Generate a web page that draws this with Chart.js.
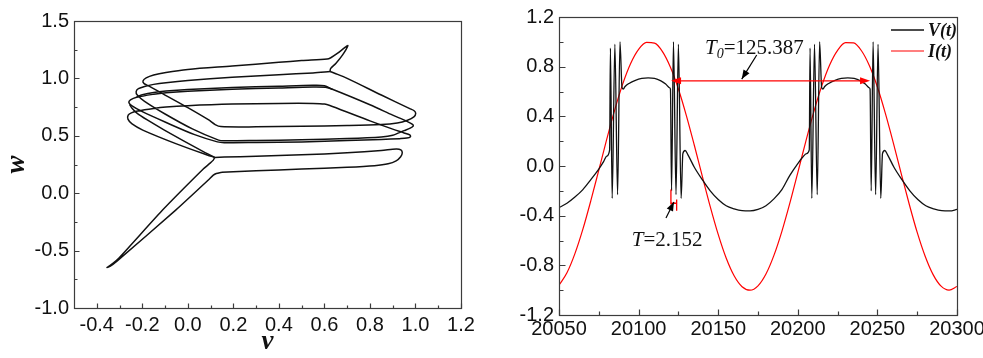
<!DOCTYPE html>
<html><head><meta charset="utf-8">
<script src="https://cdn.jsdelivr.net/npm/chart.js@4.4.1/dist/chart.umd.min.js"></script>
<style>
html,body{margin:0;padding:0;background:#fff;}
#wrap{position:relative;width:983px;height:358px;overflow:hidden;background:#fff;}
#c1{position:absolute;left:0;top:0;}
#c2{position:absolute;left:490px;top:0;}
</style></head><body>
<div id="wrap"><canvas id="c1" width="490" height="358"></canvas><canvas id="c2" width="493" height="358"></canvas></div>
<script>
// ---------- Left panel: phase portrait (v, w), strands ----------
const vTicks = [-0.4,-0.2,0.0,0.2,0.4,0.6,0.8,1.0,1.2];
const vMinor = [-0.3,-0.1,0.1,0.3,0.5,0.7,0.9,1.1];
const wTicks = [-1.0,-0.5,0.0,0.5,1.0,1.5];
const wMinor = [-0.75,-0.25,0.25,0.75,1.25];

const tailPts = [[0.118,0.312],[0.112,0.288],[0.098,0.262],[0.07,0.215],[-0.11,-0.145],[-0.30,-0.56],[-0.338,-0.625],[-0.355,-0.647],[-0.342,-0.638],[-0.31,-0.59],[-0.052,-0.145],[0.09,0.115],[0.112,0.158],[0.125,0.172],[0.15,0.183]];
const bottomLoopPts = [[0.15,0.183],[0.3,0.196],[0.5,0.21],[0.7,0.226],[0.82,0.24],[0.88,0.256],[0.915,0.282],[0.935,0.318],[0.942,0.352],[0.936,0.378],[0.915,0.386],[0.85,0.372],[0.7,0.352],[0.5,0.334],[0.3,0.322],[0.16,0.315],[0.118,0.312]];
const burstAPts = [[0.118,0.312],[0.085,0.333],[-0.05,0.43],[-0.198,0.55],[-0.245,0.603],[-0.263,0.645],[-0.262,0.68],[-0.248,0.7],[-0.22,0.716],[-0.15,0.738],[-0.096,0.75],[0.0,0.762],[0.195,0.776],[0.4,0.782],[0.55,0.782],[0.6,0.776],[0.635,0.755],[0.8,0.63],[0.9,0.558],[0.95,0.525],[0.975,0.508],[0.978,0.492],[0.962,0.48],[0.93,0.475],[0.85,0.468],[0.7,0.458],[0.5,0.447],[0.3,0.442],[0.16,0.44],[0.13,0.447],[0.03,0.51],[-0.1,0.62],[-0.2,0.71],[-0.245,0.76],[-0.259,0.79],[-0.252,0.812],[-0.225,0.835],[-0.15,0.862],[-0.096,0.875],[0.0,0.888],[0.195,0.905],[0.4,0.917],[0.55,0.925],[0.605,0.922],[0.635,0.905],[0.8,0.77],[0.9,0.68],[0.96,0.628],[0.987,0.6],[0.99,0.585],[0.977,0.567],[0.95,0.545],[0.9,0.505],[0.85,0.49],[0.7,0.476],[0.5,0.466],[0.3,0.459],[0.16,0.456],[0.135,0.462],[0.02,0.56],[-0.1,0.69],[-0.19,0.8],[-0.222,0.855],[-0.227,0.885],[-0.217,0.91],[-0.19,0.93],[-0.15,0.948],[-0.096,0.963],[0.0,0.982],[0.195,1.01],[0.4,1.032],[0.55,1.048],[0.625,1.06]];
const burstBPts = [[0.625,1.06],[0.627,1.085],[0.65,1.13],[0.68,1.205],[0.703,1.285],[0.692,1.272],[0.655,1.215],[0.628,1.18],[0.612,1.168],[0.5,1.155],[0.4,1.14],[0.195,1.108],[0.0,1.078],[-0.096,1.052],[-0.15,1.03],[-0.183,1.005],[-0.197,0.978],[-0.192,0.955],[-0.172,0.935],[-0.1,0.855],[0.0,0.745],[0.09,0.64],[0.12,0.598],[0.145,0.58],[0.3,0.578],[0.5,0.583],[0.7,0.589],[0.85,0.598],[0.92,0.612],[0.965,0.636],[0.993,0.665],[1.001,0.695],[0.994,0.718],[0.975,0.737],[0.85,0.855],[0.7,1.0],[0.645,1.045],[0.625,1.06]];
const junctionDiagPts = [[0.118,0.312],[0.07,0.36],[-0.103,0.55],[-0.18,0.64],[-0.225,0.7],[-0.245,0.74],[-0.255,0.77]];
const doubleTopPts = [[0.635,0.905],[0.6,0.936],[0.55,0.94],[0.4,0.932],[0.195,0.92],[0.0,0.903],[-0.096,0.89],[-0.15,0.878],[-0.2,0.858],[-0.225,0.84]];

// ---------- Right panel: time series ----------
const tTicks = [20050,20100,20150,20200,20250,20300];
const tMinor = [20075,20125,20175,20225,20275];
const yTicks = [-1.2,-0.8,-0.4,0.0,0.4,0.8,1.2];
const yMinor = [-1.0,-0.6,-0.2,0.2,0.6,1.0];

const vTime = [20050,20055,20060,20065,20070,20075,20078,20080,20081.8,20082.3,20083.4,20085.1,20086.8,20088.3,20089.6,20090.4,20091.5,20094,20098,20102,20106,20110,20114,20117,20119.5,20120.0,20120.7,20121.9,20123.5,20125.0,20126.7,20127.8,20129.2,20131,20135,20140,20145,20150,20155,20160,20165,20170,20175,20180,20185,20190,20195,20200,20203,20205.5,20207.2,20207.7,20208.8,20210.5,20212.2,20213.7,20215.0,20215.8,20216.9,20219.4,20223.4,20227.4,20231.4,20235.4,20239.4,20242.4,20244.9,20245.4,20246.1,20247.3,20248.9,20250.4,20252.1,20253.2,20254.6,20256.4,20260.4,20265.4,20270.4,20275.4,20280.4,20285.4,20290.4,20295.4,20300];
const vValue = [-0.335,-0.30,-0.25,-0.19,-0.11,-0.025,0.035,0.08,0.13,0.95,-0.26,0.98,-0.23,1.0,0.63,0.62,0.64,0.665,0.69,0.705,0.71,0.705,0.685,0.66,0.63,0.62,-0.20,1.0,-0.23,0.98,-0.26,0.10,0.125,0.09,-0.01,-0.11,-0.20,-0.27,-0.32,-0.345,-0.36,-0.362,-0.35,-0.32,-0.265,-0.19,-0.075,0.02,0.07,0.10,0.13,0.95,-0.26,0.98,-0.23,1.0,0.63,0.62,0.64,0.665,0.69,0.705,0.71,0.705,0.685,0.66,0.63,0.62,-0.20,1.0,-0.23,0.98,-0.26,0.10,0.125,0.09,-0.01,-0.11,-0.20,-0.27,-0.32,-0.345,-0.36,-0.362,-0.35];

const iTime = [20050,20055,20060,20065,20070,20075,20080,20085,20090,20095,20100,20105,20110,20115,20120,20125,20130,20135,20140,20145,20150,20155,20160,20165,20170,20175,20180,20185,20190,20195,20200,20205,20210,20215,20220,20225,20230,20235,20240,20245,20250,20255,20260,20265,20270,20275,20280,20285,20290,20295,20300];
const iValue = [-0.960,-0.860,-0.706,-0.509,-0.279,-0.033,0.216,0.452,0.659,0.825,0.939,0.995,0.989,0.921,0.795,0.620,0.406,0.167,-0.082,-0.327,-0.551,-0.741,-0.884,-0.972,-1.000,-0.965,-0.870,-0.720,-0.526,-0.299,-0.053,0.197,0.434,0.644,0.814,0.932,0.993,0.991,0.928,0.807,0.636,0.424,0.187,-0.063,-0.308,-0.535,-0.727,-0.875,-0.968,-1.000,-0.970];

// annotation anchors (data units)
const periodArrow = {t1:20120.4, t2:20245.4, y:0.686, label:'125.387'};
const periodPointer = {t1:20174.2, y1:0.894, t2:20164.8, y2:0.70, textT:20141.7, textY:0.906};
const spikeMark = {tA:20120.3, tB:20123.9, yA1:-0.19, yA2:-0.31, yB1:-0.27, yB2:-0.36, yH:-0.30};
const spikePointer = {t1:20117.2, y1:-0.418, t2:20122.2, y2:-0.29, textT:20095.7, textY:-0.648, label:'2.152'};

const SANS = "'Liberation Sans', Arial, Helvetica, sans-serif";
const SERIF = "'Liberation Serif', 'Times New Roman', Times, serif";

const frameTicks = {
  id: 'frameTicks',
  afterDraw(chart, args, o) {
    const {ctx, chartArea: a} = chart;
    const xs = chart.scales.x, ys = chart.scales.y;
    ctx.save();
    ctx.strokeStyle = o.color; ctx.lineWidth = 1.2;
    const L = Math.round(a.left)+0.5, R = Math.round(a.right)+0.5, T = Math.round(a.top)+0.5, B = Math.round(a.bottom)+0.5;
    ctx.strokeRect(L, T, R-L, B-T);
    ctx.beginPath();
    const tx = (arr, len) => arr.forEach(v => { const p = Math.round(xs.getPixelForValue(v))+0.5; ctx.moveTo(p,B); ctx.lineTo(p,B-len); });
    const ty = (arr, len) => arr.forEach(v => { const p = Math.round(ys.getPixelForValue(v))+0.5; ctx.moveTo(L,p); ctx.lineTo(L+len,p); });
    tx(o.xMajor, o.major); tx(o.xMinor, o.minor); ty(o.yMajor, o.major); ty(o.yMinor, o.minor);
    ctx.stroke();
    ctx.restore();
  }
};

function arrowHead(ctx, x1, y1, x2, y2, len, half) {
  const ang = Math.atan2(y2-y1, x2-x1), c = Math.cos(ang), s = Math.sin(ang);
  ctx.beginPath();
  ctx.moveTo(x2, y2);
  ctx.lineTo(x2 - len*c + half*s, y2 - len*s - half*c);
  ctx.lineTo(x2 - len*c - half*s, y2 - len*s + half*c);
  ctx.closePath(); ctx.fill();
}

const annotations = {
  id: 'annot',
  afterDraw(chart) {
    const {ctx, chartArea: a} = chart;
    const xs = chart.scales.x, ys = chart.scales.y;
    const X = v => xs.getPixelForValue(v), Y = v => ys.getPixelForValue(v);
    ctx.save();
    // red double arrow T0
    ctx.strokeStyle = '#ff0000'; ctx.fillStyle = '#ff0000'; ctx.lineWidth = 1.3;
    const ay = Y(periodArrow.y), ax1 = X(periodArrow.t1), ax2 = X(periodArrow.t2);
    ctx.beginPath(); ctx.moveTo(ax1+4, ay); ctx.lineTo(ax2-4, ay); ctx.stroke();
    arrowHead(ctx, ax2, ay, ax1, ay, 10, 3.5);
    arrowHead(ctx, ax1, ay, ax2, ay, 10, 3.5);
    // red spike-interval mark
    ctx.beginPath();
    ctx.moveTo(X(spikeMark.tA), Y(spikeMark.yA1)); ctx.lineTo(X(spikeMark.tA), Y(spikeMark.yA2));
    ctx.moveTo(X(spikeMark.tB), Y(spikeMark.yB1)); ctx.lineTo(X(spikeMark.tB), Y(spikeMark.yB2));
    ctx.moveTo(X(spikeMark.tA), Y(spikeMark.yH)); ctx.lineTo(X(spikeMark.tB), Y(spikeMark.yH));
    ctx.stroke();
    // black pointers
    ctx.strokeStyle = '#000'; ctx.fillStyle = '#000'; ctx.lineWidth = 1.2;
    const p = periodPointer;
    ctx.beginPath(); ctx.moveTo(X(p.t1), Y(p.y1)); ctx.lineTo(X(p.t2), Y(p.y2)); ctx.stroke();
    arrowHead(ctx, X(p.t1), Y(p.y1), X(p.t2), Y(p.y2), 9, 3.5);
    const q = spikePointer;
    ctx.beginPath(); ctx.moveTo(X(q.t1), Y(q.y1)); ctx.lineTo(X(q.t2), Y(q.y2)); ctx.stroke();
    arrowHead(ctx, X(q.t1), Y(q.y1), X(q.t2), Y(q.y2), 9, 3.5);
    // labels
    ctx.fillStyle = '#111'; ctx.textBaseline = 'alphabetic'; ctx.textAlign = 'left';
    let tx = X(p.textT), ty = Y(p.textY);
    ctx.font = `italic 21px ${SERIF}`; ctx.fillText('T', tx, ty); tx += ctx.measureText('T').width;
    ctx.font = `italic 14px ${SERIF}`; ctx.fillText('0', tx, ty + 4); tx += ctx.measureText('0').width;
    ctx.font = `21px ${SERIF}`; ctx.fillText('=' + periodArrow.label, tx, ty);
    tx = X(q.textT); ty = Y(q.textY);
    ctx.font = `italic 21px ${SERIF}`; ctx.fillText('T', tx, ty); tx += ctx.measureText('T').width;
    ctx.font = `21px ${SERIF}`; ctx.fillText('=' + q.label, tx, ty);
    // legend
    const lx1 = a.right - 66, lx2 = a.right - 33;
    ctx.lineWidth = 1.5; ctx.strokeStyle = '#111';
    ctx.beginPath(); ctx.moveTo(lx1, a.top + 13); ctx.lineTo(lx2, a.top + 13); ctx.stroke();
    ctx.lineWidth = 1.2; ctx.strokeStyle = '#ff0000';
    ctx.beginPath(); ctx.moveTo(lx1, a.top + 34); ctx.lineTo(lx2, a.top + 34); ctx.stroke();
    ctx.fillStyle = '#111'; ctx.font = `bold italic 18px ${SERIF}`;
    ctx.fillText(chart.data.datasets[0].label, a.right - 29, a.top + 19);
    ctx.fillText(chart.data.datasets[1].label, a.right - 29, a.top + 40);
    ctx.restore();
  }
};

const fmt1 = v => Number(v).toFixed(1);

// ---------- Left chart ----------
const strands = [tailPts, bottomLoopPts, burstAPts, burstBPts, junctionDiagPts, doubleTopPts];
new Chart(document.getElementById('c1'), {
  type: 'scatter',
  data: { datasets: strands.map((s, i) => ({
    label: 'trajectory ' + i,
    data: s.map(([x, y]) => ({x, y})),
    showLine: true, borderColor: '#111', borderWidth: 1.5, pointRadius: 0,
    tension: i === 0 ? 0.15 : 0.3, fill: false
  })) },
  options: {
    responsive: false, animation: false, events: [],
    layout: { padding: { left: 0, right: 29, top: 21, bottom: 0 } },
    plugins: { legend: { display: false }, tooltip: { enabled: false },
      frameTicks: { color: '#3c3c3c', xMajor: vTicks, xMinor: vMinor, yMajor: wTicks, yMinor: wMinor, major: 5, minor: 3 } },
    scales: {
      x: { type: 'linear', min: -0.5, max: 1.2,
        afterBuildTicks: s => { s.ticks = vTicks.map(v => ({value: v})); },
        afterFit: s => { s.height = 50; s.paddingLeft = 0; s.paddingRight = 0; },
        grid: { display: false, drawTicks: false }, border: { display: false },
        ticks: { padding: 5, color: '#111', font: { family: SANS, size: 20 }, callback: fmt1, maxRotation: 0, autoSkip: false },
        title: { display: true, text: 'v', color: '#111', padding: { top: 0, bottom: 0 }, font: { family: SERIF, size: 27, style: 'italic', weight: 'bold' } } },
      y: { type: 'linear', min: -1.0, max: 1.5,
        afterBuildTicks: s => { s.ticks = wTicks.map(v => ({value: v})); },
        afterFit: s => { s.width = 74; },
        grid: { display: false, drawTicks: false }, border: { display: false },
        ticks: { padding: 5, color: '#111', font: { family: SANS, size: 20 }, callback: fmt1, autoSkip: false },
        title: { display: true, text: 'w', color: '#111', padding: { top: 1, bottom: 0 }, font: { family: SERIF, size: 27, style: 'italic', weight: 'bold' } } }
    }
  },
  plugins: [frameTicks]
});

// ---------- Right chart ----------
new Chart(document.getElementById('c2'), {
  type: 'line',
  data: { datasets: [
    { label: 'V(t)', data: vTime.map((t, i) => ({x: t, y: vValue[i]})), borderColor: '#111', borderWidth: 1.3, pointRadius: 0, cubicInterpolationMode: 'monotone', fill: false, order: 0 },
    { label: 'I(t)', data: iTime.map((t, i) => ({x: t, y: iValue[i]})), borderColor: '#ff0000', borderWidth: 1.2, pointRadius: 0, cubicInterpolationMode: 'monotone', fill: false, order: 1 }
  ] },
  options: {
    responsive: false, animation: false, events: [],
    layout: { padding: { left: 0, right: 26, top: 15, bottom: 0 } },
    plugins: { legend: { display: false }, tooltip: { enabled: false },
      frameTicks: { color: '#3c3c3c', xMajor: tTicks, xMinor: tMinor, yMajor: yTicks, yMinor: yMinor, major: 6, minor: 4 } },
    scales: {
      x: { type: 'linear', min: 20050, max: 20300,
        afterBuildTicks: s => { s.ticks = tTicks.map(v => ({value: v})); },
        afterFit: s => { s.height = 43; s.paddingLeft = 0; s.paddingRight = 0; },
        grid: { display: false, drawTicks: false }, border: { display: false },
        ticks: { padding: 2, color: '#111', font: { family: SANS, size: 20 }, callback: v => String(v), maxRotation: 0, autoSkip: false } },
      y: { type: 'linear', min: -1.2, max: 1.2,
        afterBuildTicks: s => { s.ticks = yTicks.map(v => ({value: v})); },
        afterFit: s => { s.width = 69; },
        grid: { display: false, drawTicks: false }, border: { display: false },
        ticks: { padding: 5, color: '#111', font: { family: SANS, size: 20 }, callback: fmt1, autoSkip: false } }
    }
  },
  plugins: [frameTicks, annotations]
});
</script>
</body></html>
